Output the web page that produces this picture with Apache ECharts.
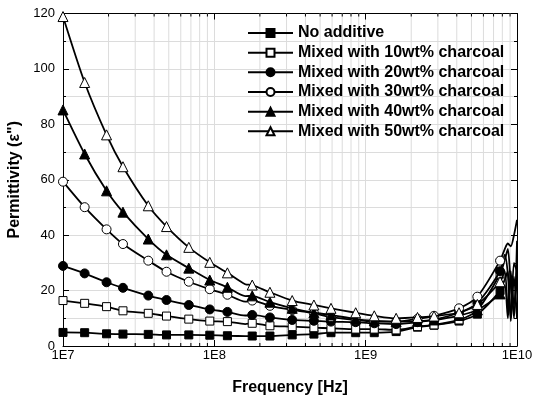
<!DOCTYPE html>
<html>
<head>
<meta charset="utf-8">
<script src="https://cdn.jsdelivr.net/npm/echarts@6/dist/echarts.min.js"></script>
<style>
  html, body { margin: 0; padding: 0; background: #fff; }
  #chart { width: 533px; height: 399px; }
</style>
</head>
<body>
<div id="chart"></div>
<script>
// Frequencies (Hz) at which markers are drawn
const markerFreq = [1e7, 1.39e7, 1.94e7, 2.49e7, 3.66e7, 4.83e7, 6.78e7, 9.33e7, 1.22e8, 1.78e8,
  2.33e8, 3.27e8, 4.55e8, 5.90e8, 8.59e8, 1.14e9, 1.59e9, 2.20e9, 2.83e9, 4.14e9, 5.47e9, 7.73e9];
// Extra line-only points: small wiggle near 160 MHz and the noisy top decade end
const wiggleFreq = 1.6e8;
const tailFreq = [8.3e9, 8.7e9, 9.1e9, 9.55e9, 1e10];

const seriesNames = ['No additive', 'Mixed with 10wt% charcoal', 'Mixed with 20wt% charcoal',
  'Mixed with 30wt% charcoal', 'Mixed with 40wt% charcoal', 'Mixed with 50wt% charcoal'];

const noAdditive = [4.9, 4.8, 4.4, 4.3, 4.2, 4.0, 4.0, 3.9, 3.7, 3.6, 3.6, 4.0, 4.3, 4.8, 4.8, 4.8, 5.2, 6.8, 7.5, 9.0, 11.5, 20.0];
const charcoal10 = [16.4, 15.4, 14.2, 12.7, 11.8, 10.8, 9.7, 9.0, 8.8, 8.2, 7.3, 7.0, 6.6, 6.4, 6.1, 6.1, 5.8, 7.0, 7.6, 9.4, 13.0, 26.0];
const charcoal20 = [28.9, 26.2, 23.0, 21.0, 18.2, 16.6, 14.8, 13.2, 12.3, 11.2, 10.3, 9.4, 9.1, 8.8, 8.6, 8.2, 7.9, 8.6, 9.5, 12.0, 15.5, 27.0];
const charcoal30 = [59.3, 50.1, 42.1, 36.8, 30.8, 26.8, 23.2, 20.5, 18.5, 16.4, 14.5, 13.0, 11.8, 10.4, 9.4, 8.8, 8.8, 9.8, 10.9, 13.6, 17.8, 30.8];
const charcoal40 = [85.2, 69.3, 56.0, 48.3, 38.6, 32.9, 28.1, 23.8, 21.2, 18.1, 15.8, 13.6, 12.0, 11.2, 9.7, 9.1, 8.8, 8.9, 9.4, 11.0, 13.0, 18.8];
const charcoal50 = [118.9, 95.1, 76.2, 64.7, 50.6, 43.1, 35.6, 30.2, 26.4, 22.0, 19.4, 16.4, 14.8, 13.6, 12.0, 10.9, 10.0, 10.3, 10.8, 12.0, 15.0, 23.2];

const wiggleValues = [3.6, 7.9, 11.0, 16.0, 18.0, 22.3];
const tailNoAdditive = [24, 27, 9, 25, 10];
const tail10 = [31, 35, 22, 12, 38];
const tail20 = [33, 26, 10, 30, 27];
const tail30 = [35, 37, 36, 40, 45.5];
const tail40 = [22, 10, 25, 15, 25];
const tail50 = [27, 13, 27, 10, 28];

const allValues = [noAdditive, charcoal10, charcoal20, charcoal30, charcoal40, charcoal50];
const allTails = [tailNoAdditive, tail10, tail20, tail30, tail40, tail50];

const yMin = 0, yMax = 120, yStep = 20;
const xMin = 1e7, xMax = 1e10;

// Marker styles: filled / open square, circle, triangle
const markerShapes = ['rect', 'rect', 'circle', 'circle', 'triangle', 'triangle'];
const markerFilled = [true, false, true, false, true, false];
const markerSizes = [8, 8, 9, 9, 10, 10];

// Minor log-axis positions (2..9 within each decade)
const minorFreqs = [];
for (let d = 7; d < 10; d++) {
  for (let m = 2; m <= 9; m++) minorFreqs.push(m * Math.pow(10, d));
}

function buildLine(i) {
  const pts = [];
  const vals = allValues[i];
  markerFreq.forEach((f, k) => {
    if (f > wiggleFreq && markerFreq[k - 1] < wiggleFreq) {
      pts.push({ value: [wiggleFreq, wiggleValues[i]], symbol: 'none' });
    }
    pts.push({ value: [f, vals[k]] });
  });
  tailFreq.forEach((f, k) => pts.push({ value: [f, allTails[i][k]], symbol: 'none' }));
  return pts;
}

const font = 'Liberation Sans, Arial, sans-serif';

const lineSeries = seriesNames.map((name, i) => ({
  name: name,
  type: 'line',
  xAxisIndex: 0,
  yAxisIndex: 0,
  data: buildLine(i),
  smooth: 0.25,
  showAllSymbol: true,
  symbol: markerShapes[i],
  symbolSize: markerSizes[i],
  lineStyle: { color: '#000', width: 1.8 },
  itemStyle: {
    color: markerFilled[i] ? '#000' : '#fff',
    borderColor: '#000',
    borderWidth: 1
  },
  emphasis: { disabled: true },
  z: 3 + i
}));

// Light minor gridlines plus short inward ticks on bottom and top axes
const minorGridSeries = {
  type: 'custom',
  xAxisIndex: 0,
  yAxisIndex: 0,
  silent: true,
  z: 1,
  data: minorFreqs.map(f => [f, yMin]),
  renderItem: function (params, api) {
    const f = api.value(0);
    const bot = api.coord([f, yMin]);
    const top = api.coord([f, yMax]);
    return {
      type: 'group',
      children: [
        { type: 'line', shape: { x1: bot[0], y1: bot[1], x2: top[0], y2: top[1] },
          style: { stroke: '#dcdcdc', lineWidth: 1 } },
        { type: 'line', shape: { x1: bot[0], y1: bot[1], x2: bot[0], y2: bot[1] - 3 },
          style: { stroke: '#000', lineWidth: 1 } },
        { type: 'line', shape: { x1: top[0], y1: top[1], x2: top[0], y2: top[1] + 3 },
          style: { stroke: '#000', lineWidth: 1 } }
      ]
    };
  }
};

const chart = echarts.init(document.getElementById('chart'), null, { renderer: 'canvas' });

chart.setOption({
  animation: false,
  backgroundColor: '#fff',
  grid: { left: 63, right: 16, top: 13.5, bottom: 53, containLabel: false, outerBoundsMode: 'none' },
  legend: {
    data: seriesNames,
    orient: 'vertical',
    left: 247,
    top: 25,
    padding: 0,
    itemWidth: 45,
    itemHeight: 10,
    itemGap: 3.66,
    selectedMode: false,
    textStyle: { fontFamily: font, fontSize: 16, fontWeight: 'bold', color: '#000', lineHeight: 16 }
  },
  xAxis: [
    {
      type: 'log', logBase: 10, min: xMin, max: xMax,
      position: 'bottom',
      name: 'Frequency [Hz]', nameLocation: 'middle', nameGap: 34,
      nameTextStyle: { fontFamily: font, fontSize: 16, fontWeight: 'bold', color: '#000' },
      axisLine: { show: true, onZero: false, lineStyle: { color: '#000', width: 1 } },
      axisTick: { show: true, inside: true, length: 6, lineStyle: { color: '#000' } },
      axisLabel: {
        fontFamily: font, fontSize: 13, color: '#000', margin: 3,
        formatter: v => '1E' + Math.round(Math.log10(v))
      },
      splitLine: { show: true, lineStyle: { color: '#dcdcdc', width: 1 } }
    },
    {
      type: 'log', logBase: 10, min: xMin, max: xMax,
      position: 'top',
      axisLine: { show: true, onZero: false, lineStyle: { color: '#000', width: 1 } },
      axisTick: { show: true, inside: true, length: 6, lineStyle: { color: '#000' } },
      axisLabel: { show: false },
      splitLine: { show: false }
    }
  ],
  yAxis: [
    {
      type: 'value', min: yMin, max: yMax, interval: yStep,
      position: 'left',
      name: 'Permittivity (ε")', nameLocation: 'middle', nameGap: 40,
      nameTextStyle: { fontFamily: font, fontSize: 16, fontWeight: 'bold', color: '#000' },
      axisLine: { show: true, onZero: false, lineStyle: { color: '#000', width: 1 } },
      axisTick: { show: true, inside: true, length: 6, lineStyle: { color: '#000' } },
      minorTick: { show: true, splitNumber: 2, length: 3, lineStyle: { color: '#000' } },
      axisLabel: { fontFamily: font, fontSize: 13, color: '#000', margin: 8 },
      splitLine: { show: true, lineStyle: { color: '#dcdcdc', width: 1 } },
      minorSplitLine: { show: true, lineStyle: { color: '#dcdcdc', width: 1 } }
    },
    {
      type: 'value', min: yMin, max: yMax, interval: yStep,
      position: 'right',
      axisLine: { show: true, onZero: false, lineStyle: { color: '#000', width: 1 } },
      axisTick: { show: true, inside: true, length: 6, lineStyle: { color: '#000' } },
      minorTick: { show: true, splitNumber: 2, length: 3, lineStyle: { color: '#000' } },
      axisLabel: { show: false },
      splitLine: { show: false }
    }
  ],
  series: [minorGridSeries].concat(lineSeries)
});
</script>
</body>
</html>
